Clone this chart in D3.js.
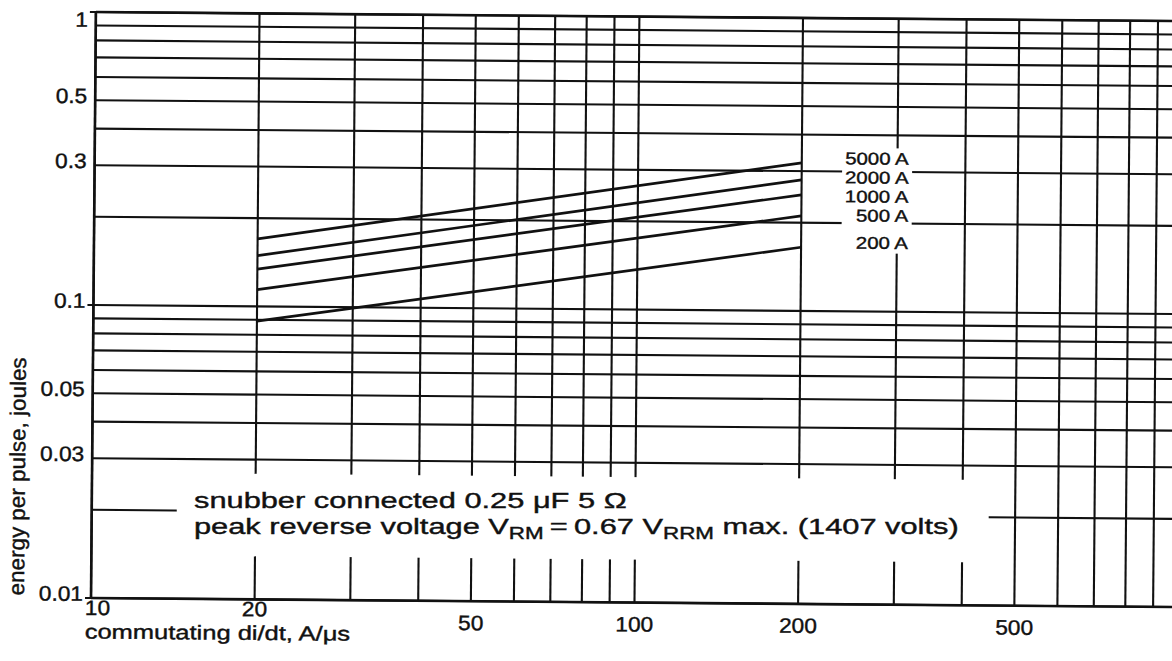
<!DOCTYPE html>
<html lang="en">
<head>
<meta charset="UTF-8">
<title>Energy per pulse vs commutating di/dt</title>
<script src="https://d3js.org/d3.v7.min.js"></script>
<style>
  html, body { margin: 0; padding: 0; background: #fff; }
  svg { display: block; }
  text { font-family: "Liberation Sans", Arial, Helvetica, sans-serif; fill: #111; stroke: #111; stroke-width: 0.4; }
  .grid { stroke: #111; stroke-width: 2.1; }
  .frame { stroke: #111; stroke-width: 2.6; }
  .curve { fill: none; stroke: #111; stroke-width: 2.7; }
</style>
</head>
<body>
<svg width="1172" height="661"></svg>
<script>
  // commutating di/dt (A/us) at both ends of every curve
  const diDt = [20, 200];
  // energy per pulse (joules) at di/dt = 20 and 200, one array per peak current
  const e5000 = [0.170, 0.32];
  const e2000 = [0.149, 0.28];
  const e1000 = [0.134, 0.249];
  const e500 = [0.114, 0.211];
  const e200 = [0.089, 0.165];
  const currentLabels = ["5000 A", "2000 A", "1000 A", "500 A", "200 A"];

  const xGrid = [10, 20, 30, 40, 50, 60, 70, 80, 90, 100, 200, 300, 400, 500, 600, 700, 800, 900, 1000];
  const yGrid = [0.01, 0.02, 0.03, 0.04, 0.05, 0.06, 0.07, 0.08, 0.09,
                 0.1, 0.2, 0.3, 0.4, 0.5, 0.6, 0.7, 0.8, 0.9, 1];
  const xTickLabels = [10, 20, 50, 100, 200, 500];
  const yTickLabels = [0.01, 0.03, 0.05, 0.1, 0.3, 0.5, 1];

  const series = [e5000, e2000, e1000, e500, e200].map((v, i) => ({ name: currentLabels[i], values: v }));

  const svg = d3.select("svg");
  svg.append("rect").attr("width", 1172).attr("height", 661).attr("fill", "#fff");

  const x = d3.scaleLog().domain([10, 1000]).range([91, 1178]);
  const y = d3.scaleLog().domain([0.01, 1]).range([598, 12]);

  // the scanned sheet sits slightly skewed
  const g = svg.append("g").attr("transform", "rotate(0.48,91,598)");

  g.append("g").selectAll("line")
    .data(xGrid)
    .join("line")
    .attr("class", "grid")
    .attr("x1", d => x(d)).attr("x2", d => x(d))
    .attr("y1", y(1)).attr("y2", y(0.01));

  g.append("g").selectAll("line")
    .data(yGrid)
    .join("line")
    .attr("class", "grid")
    .attr("x1", x(10)).attr("x2", x(1000))
    .attr("y1", d => y(d)).attr("y2", d => y(d));

  // frame
  g.append("line").attr("class", "frame").attr("x1", x(10)).attr("x2", x(10)).attr("y1", y(1) - 1).attr("y2", y(0.01) + 1);
  g.append("line").attr("class", "frame").attr("x1", x(10)).attr("x2", x(1000)).attr("y1", y(0.01)).attr("y2", y(0.01));
  g.append("line").attr("class", "frame").attr("x1", x(10)).attr("x2", x(1000)).attr("y1", y(1)).attr("y2", y(1));

  // small ticks at the decades
  g.append("g").selectAll("line")
    .data(yTickLabels.filter(d => [0.01, 0.1, 1].includes(d)))
    .join("line")
    .attr("class", "grid")
    .attr("x1", x(10) - 6).attr("x2", x(10))
    .attr("y1", d => y(d)).attr("y2", d => y(d));

  // blank panel behind the note
  g.append("rect")
    .attr("x", 176).attr("y", 472.5)
    .attr("width", 812).attr("height", 82.5)
    .attr("fill", "#fff");

  const line = d3.line()
    .x((d, i) => x(diDt[i]))
    .y(d => y(d));

  g.append("g").selectAll("path")
    .data(series)
    .join("path")
    .attr("class", "curve")
    .attr("d", d => line(d.values));

  // current labels next to the curve ends, pushed apart so they do not collide
  let prev = -Infinity;
  series.forEach(s => {
    s.ly = Math.max(y(s.values[1]) + 1, prev + 19);
    prev = s.ly;
  });
  const labels = g.append("g").attr("class", "curve-labels");
  labels.selectAll("text")
    .data(series)
    .join("text")
    .attr("transform", d => `translate(905,${d.ly}) scale(1.2,1)`)
    .attr("text-anchor", "end")
    .attr("font-size", 17)
    .text(d => d.name);
  const bb = labels.node().getBBox();
  g.insert("rect", ".curve-labels")
    .attr("x", bb.x - 3).attr("y", bb.y - 1)
    .attr("width", bb.width + 6).attr("height", bb.height + 2)
    .attr("fill", "#fff");

  // y tick labels
  g.append("g").selectAll("text")
    .data(yTickLabels)
    .join("text")
    .attr("transform", d => `translate(83,${y(d) + (d === 1 ? 15 : 3)}) scale(1.08,1)`)
    .attr("text-anchor", "end")
    .attr("font-size", 21)
    .text(d => d);

  // x tick labels
  g.append("g").selectAll("text")
    .data(xTickLabels)
    .join("text")
    .attr("transform", d => `translate(${d === 10 ? 85 : x(d)},${d < 50 ? 615 : 627}) scale(1.08,1)`)
    .attr("text-anchor", d => d === 10 ? "start" : "middle")
    .attr("font-size", 21)
    .text(d => d);

  // axis titles
  g.append("text")
    .attr("transform", "translate(24,477) rotate(-90)")
    .attr("text-anchor", "middle")
    .attr("font-size", 22)
    .attr("textLength", 238)
    .attr("lengthAdjust", "spacingAndGlyphs")
    .text("energy per pulse, joules");

  g.append("text")
    .attr("transform", "translate(85,638.5) scale(1.275,1)")
    .attr("font-size", 20)
    .text("commutating di/dt, A/\u03bcs");

  // note (kept level; the skew is only a few px over its length)
  svg.append("text")
    .attr("transform", "translate(194,507.5) scale(1.4,1)")
    .attr("font-size", 22)
    .text("snubber connected 0.25 \u03bcF 5 \u03a9");

  const note2 = svg.append("text")
    .attr("transform", "translate(194,534) scale(1.4,1)")
    .attr("font-size", 22);
  note2.append("tspan").text("peak reverse voltage V");
  note2.append("tspan").attr("font-size", 16).attr("dy", 5).text("RM");
  note2.append("tspan").attr("dy", -5).text("\u2009=\u20090.67 V");
  note2.append("tspan").attr("font-size", 16).attr("dy", 5).text("RRM");
  note2.append("tspan").attr("dy", -5).text(" max. (1407 volts)");
</script>
</body>
</html>
